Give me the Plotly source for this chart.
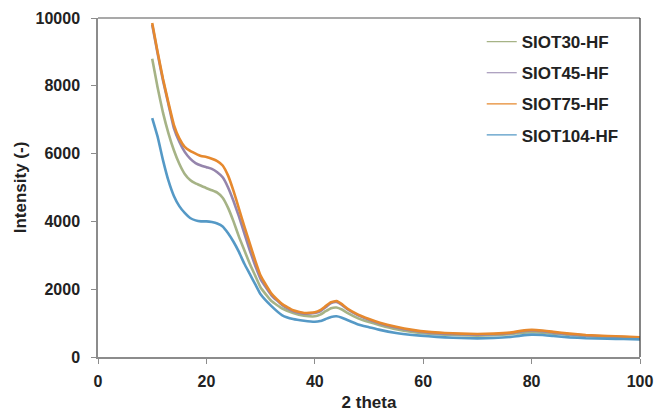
import plotly.graph_objects as go

two_theta = [10, 11, 12, 13, 14, 15, 16, 17, 18, 19, 20, 21, 22, 23, 24, 25, 26, 27, 28, 29, 30,
             32, 34, 36, 38, 40, 41, 42, 43, 44, 45, 46, 48, 50, 52, 55, 58, 61, 64, 67, 70,
             73, 76, 78, 80, 82, 84, 87, 90, 94, 97, 100]

siot30 = [8800, 7950, 7200, 6600, 6100, 5700, 5400, 5220, 5120, 5050, 4980, 4920, 4850, 4700, 4400,
          4000, 3550, 3150, 2750, 2400, 2050, 1650, 1430, 1300, 1220, 1200, 1250, 1350, 1440, 1460,
          1400, 1300, 1140, 1030, 940, 820, 740, 690, 660, 640, 630, 640, 670, 710, 730, 720, 690,
          650, 615, 590, 575, 555]

siot45 = [9800, 8950, 8150, 7450, 6750, 6350, 6050, 5850, 5720, 5650, 5600, 5550, 5450, 5300, 5000,
          4600, 4150, 3650, 3150, 2700, 2300, 1820, 1530, 1350, 1280, 1300, 1350, 1470, 1590, 1620,
          1540, 1410, 1230, 1100, 990, 870, 780, 720, 690, 670, 660, 670, 700, 750, 780, 760, 720,
          670, 635, 605, 585, 565]

siot75 = [9850, 9000, 8200, 7500, 6850, 6450, 6200, 6080, 6000, 5930, 5900, 5850, 5780, 5650, 5350,
          4900, 4380, 3850, 3350, 2850, 2400, 1870, 1560, 1380, 1300, 1320, 1380, 1500, 1620, 1650,
          1560, 1430, 1250, 1120, 1010, 890, 800, 740, 710, 690, 680, 690, 720, 770, 800, 780, 740,
          690, 650, 620, 600, 580]

siot104 = [7050, 6500, 5800, 5200, 4750, 4450, 4250, 4100, 4030, 4000, 4000, 3980, 3940, 3850, 3650,
           3400, 3100, 2750, 2450, 2150, 1850, 1500, 1230, 1120, 1070, 1040, 1060, 1120, 1180, 1200,
           1160, 1090, 960, 880, 800, 710, 650, 610, 580, 560, 550, 560, 590, 630, 660, 650, 620,
           580, 555, 540, 530, 520]

series_names = ["SIOT30-HF", "SIOT45-HF", "SIOT75-HF", "SIOT104-HF"]
series_values = [siot30, siot45, siot75, siot104]
series_colors = ["#A6B386", "#9585AC", "#E6892E", "#5599C6"]

x_ticks = [0, 20, 40, 60, 80, 100]
y_ticks = [0, 2000, 4000, 6000, 8000, 10000]

fig = go.Figure()
for i, (name, vals, col) in enumerate(zip(series_names, series_values, series_colors)):
    fig.add_trace(go.Scatter(x=two_theta, y=vals, mode="lines", name=name,
                             legendgroup=f"g{i}", showlegend=False,
                             line=dict(color=col, width=2.6, shape="spline", smoothing=0.4)))
# thin legend keys, as in the reference
for i, (name, col) in enumerate(zip(series_names, series_colors)):
    fig.add_trace(go.Scatter(x=[None], y=[None], mode="lines", name=name,
                             legendgroup=f"g{i}", showlegend=True,
                             line=dict(color=col, width=1.2)))

font_family = "Liberation Sans, Arial, sans-serif"
fig.update_layout(
    width=659, height=413,
    margin=dict(l=98, r=19, t=18, b=56),
    paper_bgcolor="white", plot_bgcolor="white",
    font=dict(family=font_family, color="#222222", size=16),
    showlegend=True,
    legend=dict(x=0.708, y=0.982, xanchor="left", yanchor="top",
                font=dict(size=17, weight="bold", color="#222222"),
                traceorder="grouped", tracegroupgap=6,
                itemwidth=30, bgcolor="rgba(0,0,0,0)"),
    xaxis=dict(range=[0, 100], tickvals=x_ticks, ticktext=[str(v) for v in x_ticks],
               ticks="outside", ticklen=5, ticklabelstandoff=4,
               tickcolor="#8c8c8c", showline=True, linecolor="#8c8c8c", linewidth=1.5,
               showgrid=False, zeroline=False, automargin=False,
               tickfont=dict(size=16, weight="bold", color="#222222"),
               title=dict(text="2 theta", font=dict(size=17, weight="bold"), standoff=7)),
    yaxis=dict(range=[0, 10000], tickvals=y_ticks, ticktext=[str(v) for v in y_ticks],
               ticks="outside", ticklen=5, ticklabelstandoff=8,
               tickcolor="#8c8c8c", showline=True, linecolor="#8c8c8c", linewidth=1.5,
               showgrid=False, zeroline=False, automargin=False,
               tickfont=dict(size=16, weight="bold", color="#222222"),
               title=dict(text="Intensity (-)", font=dict(size=17, weight="bold"), standoff=5)),
    shapes=[
        dict(type="line", xref="paper", yref="paper", x0=0, x1=1, y0=1, y1=1,
             line=dict(color="#8c8c8c", width=1.5)),
        dict(type="line", xref="paper", yref="paper", x0=1, x1=1, y0=0, y1=1,
             line=dict(color="#333333", width=1.2)),
    ],
)

fig.write_html("out.html", config={"displayModeBar": False},
               post_script="document.body.style.margin='0';document.body.style.padding='0';")
